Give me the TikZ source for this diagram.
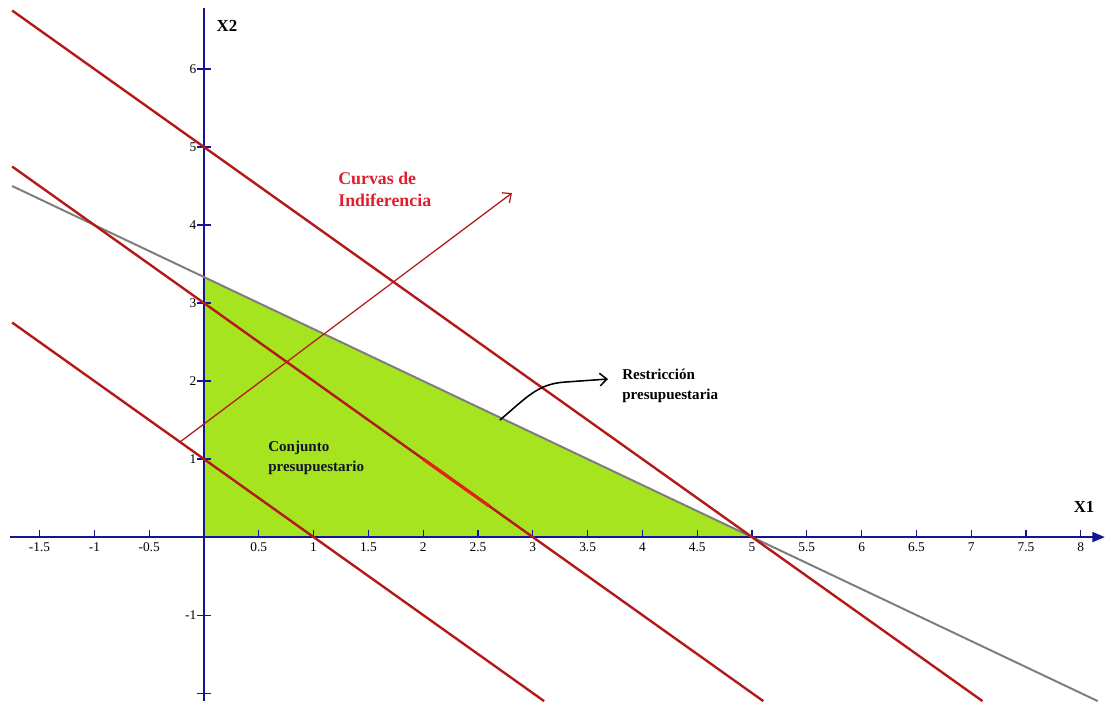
\documentclass[tikz,border=0pt]{standalone}
\usepackage{fontspec}
\setmainfont{Liberation Serif}
\usetikzlibrary{arrows.meta}
\definecolor{ejeazul}{RGB}{20,20,150}
\definecolor{rojoic}{RGB}{180,25,25}
\definecolor{rojovivo}{RGB}{225,35,20}
\definecolor{verdeconj}{RGB}{165,228,30}
\definecolor{grisrp}{RGB}{125,125,125}
\definecolor{rojotexto}{RGB}{225,30,45}

\begin{document}
\begin{tikzpicture}[x=2.74cm,y=1.95cm,
  eje/.style={ejeazul,line width=1.7pt},
  rayita/.style={ejeazul,line width=0.8pt},
  curva/.style={rojoic,line width=1.7pt},
  num/.style={font=\fontsize{9.5}{11}\selectfont,inner sep=1pt},
  rotulo/.style={font=\bfseries\fontsize{10.7}{13.8}\selectfont,align=left,anchor=west,inner sep=0pt}]
\useasboundingbox (-1.861,-2.103) rectangle (8.330,6.885);
% conjunto presupuestario
\fill[verdeconj] (0,0) -- (5,0) -- (0,10/3) -- cycle;
% ejes
\draw[eje,-{Triangle[length=9pt,width=7pt]}] (-1.77,0) -- (8.22,0);
\draw[eje] (0,-2.103) -- (0,6.78);
\foreach \x in {-1.5,-1,-0.5,0.5,1,1.5,2,2.5,3,3.5,4,4.5,5,5.5,6,6.5,7,7.5,8} {
  \draw[rayita] (\x,-0.01) -- (\x,0.085);
  \node[num,anchor=north] at (\x,-0.05) {\x};
}
\foreach \y in {-2,-1,1,2,3,4,5,6} \draw[rayita] (-0.06,\y) -- (0.06,\y);
\foreach \y in {-1,1,2,3,4,5,6} \node[num,anchor=east] at (-0.055,\y) {\y};
\node[font=\bfseries\fontsize{12}{14}\selectfont] (ejex2) at (0.21,6.55) {X2};
\node[font=\bfseries\fontsize{12}{14}\selectfont] (ejex1) at (8.03,0.385) {X1};
% restriccion presupuestaria
\draw[grisrp,line width=1.4pt,samples=2,domain=-1.75:8.154] plot (\x,{10/3-2*\x/3});
% curvas de indiferencia
\foreach \c/\xf in {1/3.103,3/5.103,5/7.103}
  \draw[curva,samples=2,domain=-1.75:\xf] plot (\x,{\c-\x});
\draw[rojovivo,line width=2.3pt] (2.0,1.0) -- (2.6,0.4);
\coordinate (flecha_ini) at (-0.219,1.219);
\coordinate (flecha_fin) at (2.81,4.41);
\draw[rojoic,line width=0.9pt,-{Straight Barb[length=5pt,width=9pt]}] (flecha_ini) -- (flecha_fin);
\node[rotulo,text=rojotexto,font=\bfseries\fontsize{12.7}{15.6}\selectfont] (curvas) at (1.223,4.46) {Curvas de\\Indiferencia};
\node[rotulo] (restr) at (3.814,1.936) {Restricción\\presupuestaria};
\node[rotulo,text={rgb,255:red,20;green,20;blue,40}] (conj) at (0.584,1.013) {Conjunto\\presupuestario};
\coordinate (restr_ini) at (2.70,1.50);
\coordinate (restr_fin) at (3.686,2.026);
\draw[black,line width=1.1pt,-{Straight Barb[length=5pt,width=9pt]}] (restr_ini)
  .. controls (2.95,1.80) and (3.05,1.965) .. (3.294,1.987) -- (restr_fin);
\end{tikzpicture}
\end{document}
